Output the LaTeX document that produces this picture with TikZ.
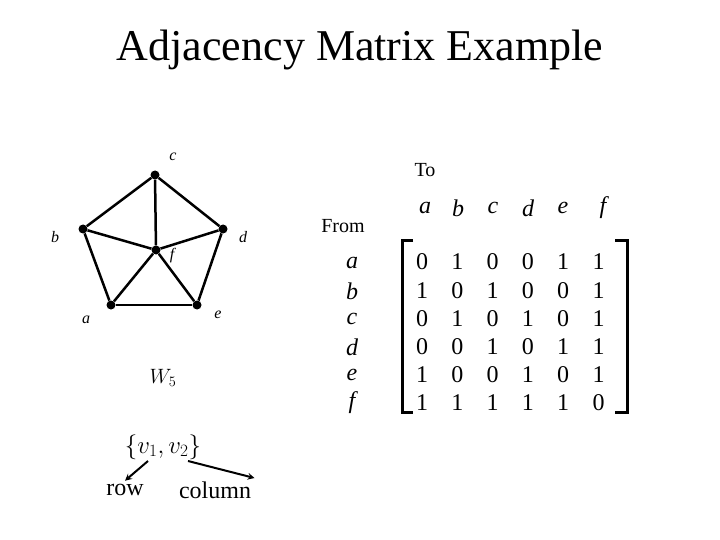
\documentclass[tikz,border=0pt]{standalone}
\usepackage{fontspec}
\setmainfont{Liberation Serif}
\begin{document}
\begin{tikzpicture}[x=1pt,y=-1pt,
  vtx/.style={circle,fill=black,inner sep=0pt,minimum size=9pt},
  edge/.style={line width=2.5pt},
  vl/.style={font=\fontsize{16}{16}\selectfont\itshape},
  mt/.style={font=\fontsize{24}{24}\selectfont},
  ml/.style={font=\fontsize{24}{24}\selectfont\itshape},
  br/.style={line width=3pt}]
\useasboundingbox (0,0) rectangle (720,540);
\node[font=\fontsize{44}{44}\selectfont] (title) at (360,50) {Adjacency Matrix Example};
\node[vtx] (c) at (155,175) {};
\node[vtx] (b) at (83,229) {};
\node[vtx] (d) at (223,229) {};
\node[vtx] (f) at (156,250) {};
\node[vtx] (a) at (111,305) {};
\node[vtx] (e) at (197,305) {};
\foreach \u/\v in {c/b,c/d,c/f,b/f,d/f,b/a,d/e,a/e,a/f,e/f}
  \draw[edge] (\u)--(\v);
\node[vl] (lc) at (173,157) {c};
\node[vl] (lb) at (55,237) {b};
\node[vl] (ld) at (243,237) {d};
\node[vl] (lf) at (172,256) {f};
\node[vl] (la) at (86,320) {a};
\node[vl] (le) at (218,315) {e};
\node[font=\fontsize{20}{20}\selectfont] (w5) at (163,378) {$W_5$};
\node[font=\fontsize{24}{24}\selectfont] (set) at (163,447) {$\{v_1,v_2\}$};
\node[mt] (row) at (125,490) {row};
\node[mt] (col) at (215,490) {column};
\coordinate (s1) at (148,461); \coordinate (s2) at (188,461);
\draw[line width=2pt,-stealth] (s1) -- (row.north);
\draw[line width=2pt,-stealth] (s2) -- (col.north east);
\node[font=\fontsize{20}{20}\selectfont] (to) at (425,170) {To};
\node[font=\fontsize{20}{20}\selectfont] (from) at (343,226) {From};
\foreach \l/\x in {a/425,b/458,c/493,d/528,e/563,f/603}
  \node[ml] (h\l) at (\x,208) {\l};
\foreach \l/\y in {a/263,b/291,c/319,d/347,e/375,f/403}
  \node[ml] (r\l) at (352,\y) {\l};
\foreach \row [count=\i] in {{0,1,0,0,1,1},{1,0,1,0,0,1},{0,1,0,1,0,1},{0,0,1,0,1,1},{1,0,0,1,0,1},{1,1,1,1,1,0}}
  \foreach \v [count=\j] in \row
    \node[mt] (m\i\j) at ({422+35.3*(\j-1)},{262+28.2*(\i-1)}) {\v};
\draw[br] (413,240) -- (402,240) -- (402,412) -- (413,412);
\draw[br] (615,240) -- (627,240) -- (627,412) -- (615,412);
\end{tikzpicture}
\end{document}
